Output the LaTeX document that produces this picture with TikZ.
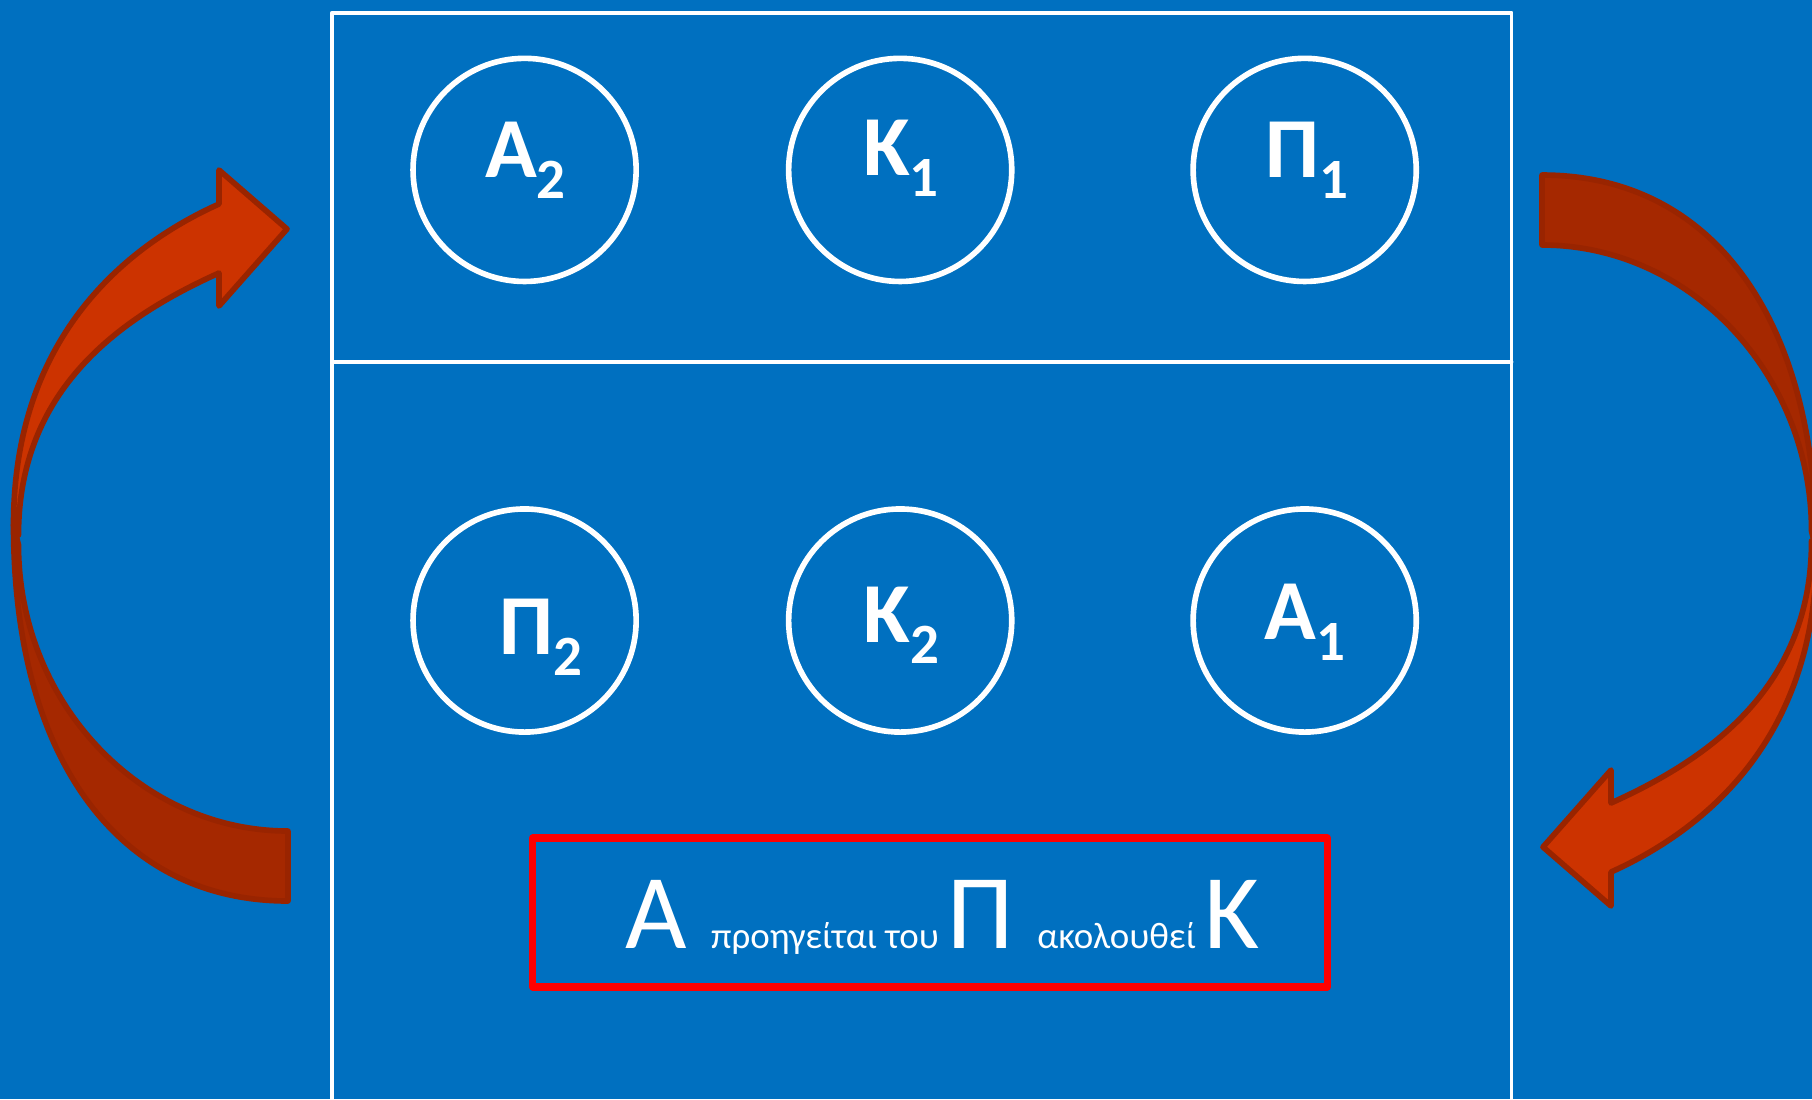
\documentclass[tikz,border=0pt]{standalone}
\usepackage{fontspec}
\setmainfont{Carlito}
\definecolor{bgblue}{HTML}{0070C0}
\definecolor{arrowlight}{HTML}{CC3300}
\definecolor{arrowdark}{HTML}{A52800}
\definecolor{arrowedge}{HTML}{992400}
\newcommand\bigtxt{\fontsize{30.2}{36}\selectfont}
\newcommand\lowtxt{\fontsize{10.5}{13}\selectfont}
\newcommand\ringlabel[2]{\bfseries\fontsize{24.3}{29}\selectfont #1\raisebox{-6pt}{\fontsize{16.2}{19}\selectfont #2}}
% one curved arrow: back band, then front band with head
\newcommand\swoosh{%
  \filldraw[band,fill=arrowdark] (288,901) .. controls (118,901) and (13.5,758) .. (13.5,525)
    -- (18.5,545) .. controls (18.5,702) and (140,831) .. (288,831) -- cycle;
  \filldraw[band,fill=arrowlight] (13.5,525) .. controls (13.5,343) and (119,249) .. (219,204)
    -- (219,170) -- (287,229) -- (219,306) -- (219,273)
    .. controls (119,318) and (18.5,390) .. (18.5,535) -- cycle;
}
\begin{document}
\begin{tikzpicture}[x=0.01cm,y=-0.01cm,line cap=round,line join=round,
  ring/.style={circle,draw=white,line width=1.6pt,minimum size=2.23cm,inner sep=0pt},
  tag/.style={text=white,anchor=base,inner sep=0pt},
  band/.style={draw=arrowedge,line width=1.6pt}]
  \useasboundingbox (0,0) rectangle (1812,1099);
  \fill[bgblue] (0,0) rectangle (1812,1099);
  % frame
  \draw[white,line width=1.1pt] (332,1110) -- (332,12.7) -- (1511.5,12.7) -- (1511.5,1110);
  \draw[white,line width=1.1pt] (332,361.7) -- (1511.5,361.7);
  % top row
  \node[ring] (a2) at (524.6,169.9) {};
  \node[ring] (k1) at (900.2,169.9) {};
  \node[ring] (p1) at (1304.7,169.9) {};
  \node[tag] (a2t) at (525.5,177) {\ringlabel{Α}{2}};
  \node[tag] (k1t) at (900.8,175.6) {\ringlabel{Κ}{1}};
  \node[tag] (p1t) at (1306.5,177) {\ringlabel{Π}{1}};
  % bottom row
  \node[ring] (p2) at (524.6,620.5) {};
  \node[ring] (k2) at (900.2,620.5) {};
  \node[ring] (a1) at (1304.7,620.5) {};
  \node[tag] (p2t) at (540.5,654) {\ringlabel{Π}{2}};
  \node[tag] (k2t) at (901.4,642.5) {\ringlabel{Κ}{2}};
  \node[tag] (a1t) at (1305,639) {\ringlabel{Α}{1}};
  % rule box
  \node[draw=red,line width=2.1pt,minimum width=7.94cm,minimum height=1.49cm,inner sep=0pt] (rule) at (930,912.5) {};
  \node[text=white,anchor=base west,inner sep=0pt] (ruletext) at (625,948)
    {\bigtxt Α \lowtxt προηγείται του \bigtxt Π \lowtxt ακολουθεί \bigtxt Κ};
  % arrows
  \swoosh
  \begin{scope}[rotate around={180:(915,538)}]
    \swoosh
  \end{scope}
\end{tikzpicture}
\end{document}
